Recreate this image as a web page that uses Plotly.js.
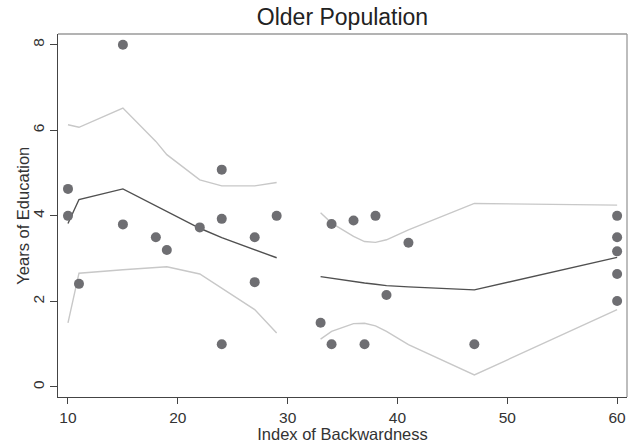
<!DOCTYPE html>
<html><head><meta charset="utf-8">
<script src="https://cdn.plot.ly/plotly-3.0.1.min.js"></script>
<style>html,body{margin:0;padding:0;background:#fff}#c{width:633px;height:443px}</style>
</head><body><div id="c"></div>
<script>
// Observed points
const ptX = [10,10,11,15,15,18,19,22,24,24,24,27,27,29,33,34,34,36,37,38,39,41,47,60,60,60,60,60];
const ptY = [4.63,4.0,2.41,8.0,3.80,3.50,3.20,3.73,5.08,3.93,1.00,3.50,2.45,4.00,1.50,3.81,1.00,3.89,1.00,4.00,2.15,3.37,1.00,4.00,3.50,3.17,2.64,2.01];

// Fitted line (gap between 29 and 33)
const fitX = [10,11,15,18,19,22,24,27,29,null,33,34,36,37,38,39,41,47,60];
const fitY = [3.82,4.38,4.63,4.24,4.11,3.71,3.49,3.21,3.02,null,2.58,2.54,2.46,2.43,2.40,2.37,2.34,2.27,3.03];

// Upper and lower confidence bands
const upY = [6.13,6.07,6.52,5.74,5.43,4.84,4.70,4.70,4.78,null,4.07,3.83,3.52,3.40,3.38,3.44,3.67,4.29,4.25];
const loY = [1.50,2.66,2.74,2.79,2.81,2.64,2.31,1.81,1.26,null,1.12,1.30,1.48,1.49,1.43,1.30,0.99,0.28,1.81];

const xTicks = [10,20,30,40,50,60];
const yTicks = [0,2,4,6,8];

const font = 'Liberation Sans, Arial, sans-serif';
const bandLine = {color:'#c8c8c8', width:1.4};

const traces = [
  {x: fitX, y: upY, mode:'lines', line: bandLine, connectgaps:false, hoverinfo:'skip'},
  {x: fitX, y: loY, mode:'lines', line: bandLine, connectgaps:false, hoverinfo:'skip'},
  {x: fitX, y: fitY, mode:'lines', line:{color:'#505050', width:1.4}, connectgaps:false},
  {x: ptX, y: ptY, mode:'markers', marker:{color:'#6e6e72', size:10}}
];

const layout = {
  width:633, height:443,
  margin:{l:58, r:6, t:34, b:46, pad:0},
  paper_bgcolor:'#fff', plot_bgcolor:'#fff',
  showlegend:false,
  font:{family:font, color:'#333'},
  title:{text:'Older Population', font:{size:23, color:'#222', family:font}, x:0.5, xref:'paper', y:0.962, yanchor:'middle'},
  xaxis:{range:[9.09,60.9], tickvals:xTicks, ticktext:xTicks.map(String), ticks:'outside', ticklen:6, tickcolor:'#444', tickwidth:1,
         showgrid:false, zeroline:false, showline:true, linecolor:'#444', linewidth:1.3,
         tickfont:{size:15.5, color:'#333'},
         title:{text:'Index of Backwardness', font:{size:16.5, color:'#333'}, standoff:1}},
  yaxis:{range:[-0.234,8.25], tickvals:yTicks, ticktext:yTicks.map(String), ticks:'outside', ticklen:7, tickcolor:'#444', tickwidth:1,
         tickangle:-90, showgrid:false, zeroline:false, showline:true, linecolor:'#444', linewidth:1.3,
         tickfont:{size:15.5, color:'#333'}},
  annotations:[
    {text:'Years of Education', xref:'paper', yref:'paper', x:-0.063, y:0.5, xanchor:'center', yanchor:'middle',
     textangle:-90, showarrow:false, font:{size:16.5, color:'#333', family:font}}
  ],
  shapes:[
    {type:'line', xref:'paper', yref:'paper', x0:0, x1:1, y0:1, y1:1, line:{color:'#9a9a9a', width:1.3}},
    {type:'line', xref:'paper', yref:'paper', x0:1, x1:1, y0:0, y1:1, line:{color:'#9a9a9a', width:1.3}}
  ]
};

Plotly.newPlot('c', traces, layout, {displayModeBar:false, staticPlot:true});
</script>
</body></html>
